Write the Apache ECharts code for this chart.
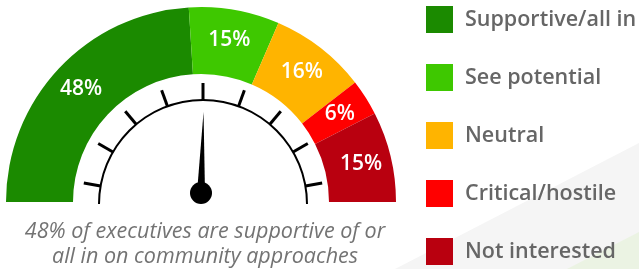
<!DOCTYPE html>
<html>
<head>
<meta charset="utf-8">
<script src="https://cdn.jsdelivr.net/npm/echarts@6/dist/echarts.min.js"></script>
<style>
  html, body { margin: 0; padding: 0; background: #fff; }
  #chart { width: 639px; height: 269px; }
</style>
</head>
<body>
<div id="chart"></div>
<script>
var categories = ['Supportive/all in', 'See potential', 'Neutral', 'Critical/hostile', 'Not interested'];
var shares = [48, 15, 16, 6, 15];
var colors = ['#1b8a00', '#3ec800', '#ffb400', '#ff0000', '#b9000f'];
var needleValue = 51;   // where the needle points, on a 0-100 dial
var captionLines = ['48% of executives are supportive of or', 'all in on community approaches'];

var myChart = echarts.init(document.getElementById('chart'));

// the visible half of the donut, plus an invisible lower half
var pieData = categories.map(function (name, i) {
    return { name: name, value: shares[i], itemStyle: { color: colors[i] } };
});
var total = shares.reduce(function (a, b) { return a + b; }, 0);
pieData.push({
    name: '_hidden', value: total,
    itemStyle: { color: 'rgba(0,0,0,0)' },
    label: { show: false }
});

var option = {
    backgroundColor: '#ffffff',
    animation: false,
    legend: {
        orient: 'vertical',
        left: 426,
        top: 6,
        height: 300,
        padding: 0,
        itemWidth: 27,
        itemHeight: 27,
        itemGap: 31,
        icon: 'rect',
        data: categories,
        selectedMode: false,
        textStyle: {
            fontFamily: 'Open Sans',
            fontWeight: 600,
            fontSize: 21.5,
            color: '#666666',
            padding: [0, 0, 0, 7]
        }
    },
    graphic: [
        // faint background shapes bottom right
        { type: 'polygon', silent: true, z: -10,
          shape: { points: [[639, 143], [395, 269], [639, 269]] },
          style: { fill: '#f5f5f5' } },
        { type: 'polygon', silent: true, z: -9,
          shape: { points: [[639, 232], [567, 269], [639, 269]] },
          style: { fill: '#ebf3e3' } },
        { type: 'text', x: 205, y: 219,
          style: {
              text: captionLines.join('\n'),
              align: 'center',
              verticalAlign: 'top',
              font: 'italic 21.5px "Open Sans"',
              lineHeight: 25,
              fill: '#737373'
          } }
    ],
    series: [
        {
            type: 'pie',
            center: [201, 202],
            radius: [128, 195],
            startAngle: 180,
            clockwise: true,
            silent: true,
            avoidLabelOverlap: false,
            label: {
                show: true,
                position: 'inside',
                formatter: '{c}%',
                color: '#ffffff',
                fontFamily: 'Open Sans',
                fontSize: 21,
                fontWeight: 600
            },
            labelLine: { show: false },
            data: pieData
        },
        {
            // black scale arc
            type: 'gauge',
            center: [203, 204],
            radius: 105,
            startAngle: 180,
            endAngle: 0,
            silent: true,
            axisLine: { lineStyle: { width: 2, color: [[1, '#000000']] } },
            axisTick: { show: false },
            splitLine: { show: false },
            axisLabel: { show: false },
            pointer: { show: false },
            anchor: { show: false },
            title: { show: false },
            detail: { show: false },
            data: []
        },
        {
            // tick marks outside the arc
            type: 'gauge',
            center: [203, 204],
            radius: 121,
            startAngle: 170,
            endAngle: 10,
            splitNumber: 8,
            silent: true,
            axisLine: { show: false, lineStyle: { width: 0 } },
            axisTick: { show: false },
            splitLine: { show: true, length: 17, distance: 0, lineStyle: { width: 3, color: '#000000' } },
            axisLabel: { show: false },
            pointer: { show: false },
            anchor: { show: false },
            title: { show: false },
            detail: { show: false },
            data: []
        },
        {
            // needle
            type: 'gauge',
            center: [201, 193],
            radius: 81,
            startAngle: 180,
            endAngle: 0,
            min: 0,
            max: 100,
            silent: true,
            axisLine: { show: false },
            axisTick: { show: false },
            splitLine: { show: false },
            axisLabel: { show: false },
            pointer: {
                show: true,
                icon: 'triangle',
                width: 8,
                length: 81,
                offsetCenter: [0, 0],
                itemStyle: { color: '#000000' }
            },
            anchor: {
                show: true,
                size: 22,
                showAbove: true,
                itemStyle: { color: '#000000' }
            },
            title: { show: false },
            detail: { show: false },
            data: [{ value: needleValue }]
        }
    ]
};
myChart.setOption(option);
</script>
</body>
</html>
